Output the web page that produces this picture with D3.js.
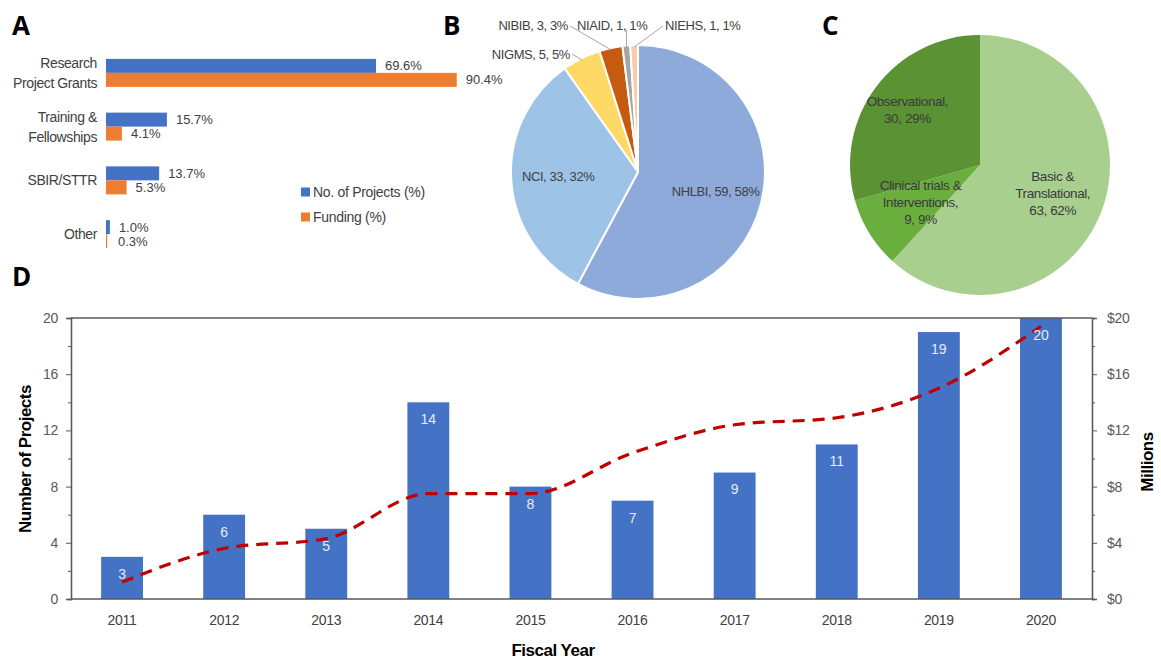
<!DOCTYPE html>
<html>
<head>
<meta charset="utf-8">
<script src="https://cdn.jsdelivr.net/npm/d3@7"></script>
<style>
  body { margin: 0; background: #fff; }
  svg { font-family: "Liberation Sans", Arial, sans-serif; }
</style>
</head>
<body>
<svg id="fig" width="1161" height="662"></svg>
<script>
// ---- data ----
const mechCategories = [["Research", "Project Grants"], ["Training &", "Fellowships"], ["SBIR/STTR"], ["Other"]];
const mechProjects = [69.6, 15.7, 13.7, 1.0];
const mechFunding = [90.4, 4.1, 5.3, 0.3];
const mechSeries = ["No. of Projects (%)", "Funding (%)"];

const icNames = ["NHLBI", "NCI", "NIGMS", "NIBIB", "NIAID", "NIEHS"];
const icCounts = [59, 33, 5, 3, 1, 1];
const icPercents = [58, 32, 5, 3, 1, 1];

const typeNames = [["Basic &", "Translational,"], ["Clinical trials &", "Interventions,"], ["Observational,"]];
const typeCounts = [63, 9, 30];
const typePercents = [62, 9, 29];

const years = ["2011", "2012", "2013", "2014", "2015", "2016", "2017", "2018", "2019", "2020"];
const projectsPerYear = [3, 6, 5, 14, 8, 7, 9, 11, 19, 20];
const fundingMillions = [1.2, 3.6, 4.3, 7.5, 7.5, 10.4, 12.4, 12.9, 15.0, 19.4];
const leftTicks = [0, 4, 8, 12, 16, 20];

const svg = d3.select("#fig");
const textCol = "#404040";

// panel letters
[["A", 12, 35], ["B", 443, 35], ["C", 822, 35], ["D", 12, 286]].forEach(([t, x, y]) => {
  svg.append("text").attr("x", x).attr("y", y)
    .style("font-family", "'Open Sans', sans-serif")
    .style("font-size", "26px").style("font-weight", "bold").text(t);
});

// ---------- Panel A ----------
{
  const x = d3.scaleLinear().domain([0, 100]).range([106, 494]);
  const y = d3.scaleBand().domain(d3.range(mechCategories.length)).range([46, 261]);
  const sub = d3.scaleBand().domain([0, 1]).range([-14, 14]);
  const colors = ["#4472c4", "#ed7d31"];
  const g = svg.append("g");

  mechCategories.forEach((lines, i) => {
    const cy = y(i) + y.bandwidth() / 2;
    const t = g.append("text").attr("x", 97).attr("text-anchor", "end")
      .attr("fill", textCol).style("font-size", "14px").style("letter-spacing", "-0.4px");
    lines.forEach((l, j) => {
      t.append("tspan").attr("x", 97)
        .attr("y", cy + (j - (lines.length - 1) / 2) * 20)
        .attr("dy", "0.35em").text(l);
    });
    [mechProjects[i], mechFunding[i]].forEach((v, k) => {
      const by = cy + sub(k);
      g.append("rect").attr("x", x(0)).attr("y", by)
        .attr("width", Math.max(1, x(v) - x(0))).attr("height", sub.bandwidth())
        .attr("fill", colors[k]);
      g.append("text").attr("x", Math.max(x(v), x(0) + 3) + 9).attr("y", by + sub.bandwidth() / 2)
        .attr("dy", "0.35em").attr("fill", textCol).style("font-size", "13px")
        .text(v.toFixed(1) + "%");
    });
  });

  mechSeries.forEach((s, k) => {
    const ly = 192 + k * 25;
    g.append("rect").attr("x", 301).attr("y", ly - 4.5).attr("width", 9).attr("height", 9).attr("fill", colors[k]);
    g.append("text").attr("x", 313).attr("y", ly).attr("dy", "0.35em")
      .attr("fill", textCol).style("font-size", "14px").style("letter-spacing", "-0.3px").text(s);
  });
}

// ---------- Panel B ----------
{
  const cx = 638, cy = 172, r = 127;
  const colors = ["#8eaadb", "#9dc3e6", "#ffd966", "#c55a11", "#a5a5a5", "#f8cbad"];
  const arcs = d3.pie().sort(null).value(d => d)(icCounts);
  const arc = d3.arc().innerRadius(0).outerRadius(r);
  const g = svg.append("g").attr("transform", `translate(${cx},${cy})`);
  g.selectAll("path").data(arcs).join("path")
    .attr("d", arc).attr("fill", (d, i) => colors[i])
    .attr("stroke", "#fff").attr("stroke-width", 2);

  const lbl = i => `${icNames[i]}, ${icCounts[i]}, ${icPercents[i]}%`;
  const inner = d3.arc().innerRadius(80).outerRadius(80);
  [0, 1].forEach(i => {
    const [px, py] = inner.centroid(arcs[i]);
    g.append("text").attr("x", px).attr("y", py).attr("dy", "0.35em")
      .attr("text-anchor", "middle").attr("fill", textCol)
      .style("font-size", "13px").style("letter-spacing", "-0.4px").text(lbl(i));
  });

  // outside labels: [slice, label x, label y, anchor, leader start x, leader start y] relative to centre
  const outside = [
    [2, -68, -118, "end", -66, -118],
    [3, -70, -147, "end", -68, -146],
    [4, -61, -147, "start", -11, -142],
    [5, 27, -147, "start", 25, -146]
  ];
  const edge = d3.arc().innerRadius(r - 2).outerRadius(r - 2);
  outside.forEach(([i, lx, ly, anc, sx, sy]) => {
    const [ex, ey] = edge.centroid(arcs[i]);
    const pts = i === 4 ? [[ex, sy], [ex, ey]] : [[sx, sy], [ex, ey]];
    g.append("path").attr("d", d3.line()(pts)).attr("fill", "none")
      .attr("stroke", "#a6a6a6").attr("stroke-width", 1);
    g.append("text").attr("x", lx).attr("y", ly).attr("dy", "0.35em")
      .attr("text-anchor", anc).attr("fill", textCol)
      .style("font-size", "13px").style("letter-spacing", "-0.4px").text(lbl(i));
  });
}

// ---------- Panel C ----------
{
  const cx = 980, cy = 165, r = 130;
  const colors = ["#a8cf8e", "#6aae3e", "#5a9234"];
  const labelR = [78, 70, 91];
  const arcs = d3.pie().sort(null).value(d => d)(typeCounts);
  const arc = d3.arc().innerRadius(0).outerRadius(r);
  const g = svg.append("g").attr("transform", `translate(${cx},${cy})`);
  g.selectAll("path").data(arcs).join("path")
    .attr("d", arc).attr("fill", (d, i) => colors[i]);

  arcs.forEach((a, i) => {
    const [px, py] = d3.arc().innerRadius(labelR[i]).outerRadius(labelR[i]).centroid(a);
    const lines = typeNames[i].concat([`${typeCounts[i]}, ${typePercents[i]}%`]);
    const t = g.append("text").attr("text-anchor", "middle").attr("fill", "#3a3a3a")
      .style("font-size", "13.5px").style("letter-spacing", "-0.4px");
    lines.forEach((l, j) => {
      t.append("tspan").attr("x", px)
        .attr("y", py + (j - (lines.length - 1) / 2) * 17)
        .attr("dy", "0.35em").text(l);
    });
  });
}

// ---------- Panel D ----------
{
  const left = 71, right = 1092, top = 318, bottom = 599;
  const x = d3.scaleBand().domain(years).range([left, right]).paddingInner(0.59).paddingOuter(0.295);
  const y = d3.scaleLinear().domain([0, 20]).range([bottom, top]);
  const y2 = d3.scaleLinear().domain([0, 20]).range([bottom, top]);
  const g = svg.append("g");
  const axisCol = "#595959";

  // bars
  g.selectAll("rect.bar").data(projectsPerYear).join("rect").attr("class", "bar")
    .attr("x", (d, i) => x(years[i])).attr("y", d => y(d))
    .attr("width", x.bandwidth()).attr("height", d => bottom - y(d))
    .attr("fill", "#4472c4");

  // frame lines
  g.append("line").attr("x1", left).attr("x2", right).attr("y1", top).attr("y2", top)
    .attr("stroke", axisCol).attr("stroke-width", 1.3);
  g.append("line").attr("x1", left).attr("x2", right).attr("y1", bottom).attr("y2", bottom)
    .attr("stroke", axisCol).attr("stroke-width", 1.3);

  // left axis
  const la = g.append("g").attr("transform", `translate(${left},0)`)
    .call(d3.axisLeft(y).tickValues(leftTicks).tickSize(5).tickPadding(8));
  la.append("g").call(d3.axisLeft(y).tickValues(d3.range(2, 20, 4)).tickSize(3).tickFormat(""));
  // right axis
  const ra = g.append("g").attr("transform", `translate(${right},0)`)
    .call(d3.axisRight(y2).tickValues(leftTicks).tickSize(5).tickPadding(10).tickFormat(d => "$" + d));
  ra.append("g").call(d3.axisRight(y2).tickValues(d3.range(2, 20, 4)).tickSize(3).tickFormat(""));
  [la, ra].forEach(a => {
    a.selectAll("path.domain").attr("stroke", axisCol).attr("stroke-width", 1.3);
    a.selectAll("line").attr("stroke", axisCol);
    a.selectAll("text").attr("fill", axisCol).style("font-size", "14px")
      .style("font-family", "'Liberation Sans', Arial, sans-serif").style("letter-spacing", "-0.3px");
  });

  // bottom category labels
  g.append("g").attr("transform", `translate(0,${bottom})`)
    .call(d3.axisBottom(x).tickSize(0).tickPadding(16))
    .call(a => a.select(".domain").remove())
    .selectAll("text").attr("fill", textCol).style("font-size", "14px")
    .style("font-family", "'Liberation Sans', Arial, sans-serif").style("letter-spacing", "-0.3px");

  // funding line
  const line = d3.line()
    .x((d, i) => x(years[i]) + x.bandwidth() / 2)
    .y(d => y2(d))
    .curve(d3.curveMonotoneX);
  g.append("path").datum(fundingMillions).attr("d", line)
    .attr("fill", "none").attr("stroke", "#c00000").attr("stroke-width", 3.2)
    .attr("stroke-dasharray", "12,8");

  // bar value labels
  g.selectAll("text.val").data(projectsPerYear).join("text").attr("class", "val")
    .attr("x", (d, i) => x(years[i]) + x.bandwidth() / 2).attr("y", d => y(d) + 17)
    .attr("dy", "0.35em").attr("text-anchor", "middle").attr("fill", "#e6ecf7")
    .style("font-size", "14px").text(d => d);

  // axis titles
  g.append("text").attr("transform", `translate(31,459) rotate(-90)`)
    .attr("text-anchor", "middle").style("font-size", "17px").style("font-weight", "bold")
    .style("letter-spacing", "-0.5px").text("Number of Projects");
  g.append("text").attr("transform", `translate(1153,462) rotate(-90)`)
    .attr("text-anchor", "middle").style("font-size", "17px").style("font-weight", "bold")
    .style("letter-spacing", "-0.5px").text("Millions");
  g.append("text").attr("x", 553).attr("y", 656)
    .attr("text-anchor", "middle").style("font-size", "17px").style("font-weight", "bold")
    .style("letter-spacing", "-0.5px").text("Fiscal Year");
}
</script>
</body>
</html>
